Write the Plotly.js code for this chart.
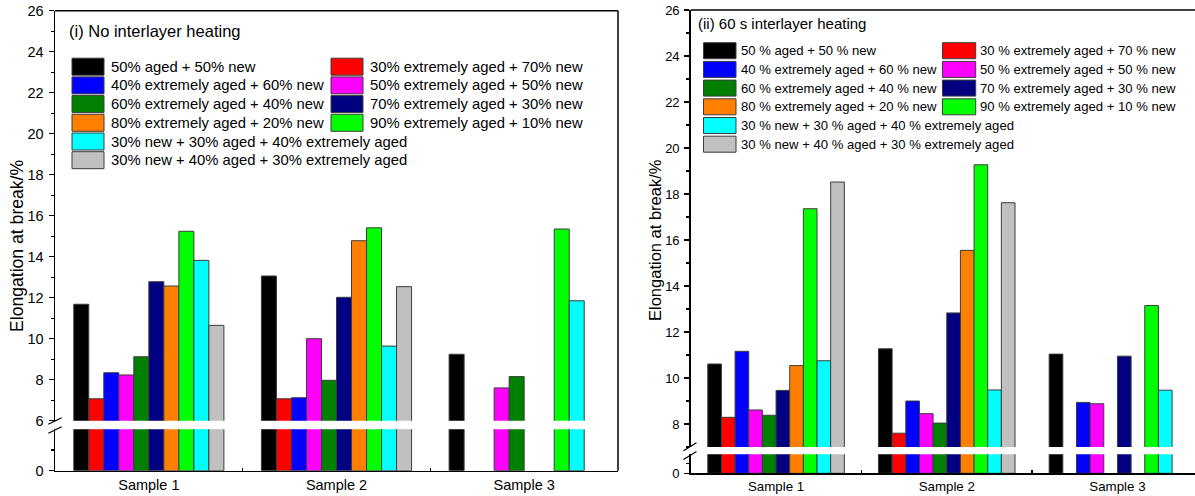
<!DOCTYPE html>
<html>
<head>
<meta charset="utf-8">
<script src="https://cdn.plot.ly/plotly-3.0.1.min.js"></script>
<style>
  html, body { margin: 0; padding: 0; background: #fff; }
  #chart { width: 1195px; height: 496px; }
</style>
</head>
<body>
<div id="chart"></div>
<script>
// Elongation at break of blended samples, with and without interlayer heating
const samples = ['Sample 1', 'Sample 2', 'Sample 3'];

const blendNamesNoHeat = [
  '50% aged + 50% new',
  '30% extremely aged + 70% new',
  '40% extremely aged + 60% new',
  '50% extremely aged + 50% new',
  '60% extremely aged + 40% new',
  '70% extremely aged + 30% new',
  '80% extremely aged + 20% new',
  '90% extremely aged + 10% new',
  '30% new + 30% aged + 40% extremely aged',
  '30% new + 40% aged + 30% extremely aged'
];
const blendNamesHeat = [
  '50 % aged + 50 % new',
  '30 % extremely aged + 70 % new',
  '40 % extremely aged + 60 % new',
  '50 % extremely aged + 50 % new',
  '60 % extremely aged + 40 % new',
  '70 % extremely aged + 30 % new',
  '80 % extremely aged + 20 % new',
  '90 % extremely aged + 10 % new',
  '30 % new + 30 % aged + 40 % extremely aged',
  '30 % new + 40 % aged + 30 % extremely aged'
];
const blendColors = ['#000000', '#FF0000', '#0000FF', '#FF00FF', '#008000',
                     '#000080', '#FF8000', '#00FF00', '#00FFFF', '#C0C0C0'];

// Elongation at break (%), one value per blend (same order as the names)
const noHeatSample1 = [11.68, 7.07, 8.34, 8.23, 9.12, 12.78, 12.57, 15.24, 13.82, 10.65];
const noHeatSample2 = [13.06, 7.07, 7.12, 10.00, 7.97, 12.02, 14.78, 15.41, 9.64, 12.54];
const noHeatSample3 = [9.24, null, null, 7.60, 8.15, null, null, 15.35, 11.85, null];

const heatSample1 = [10.61, 8.29, 11.16, 8.61, 8.38, 9.46, 10.54, 17.36, 10.75, 18.52];
const heatSample2 = [11.27, 7.60, 9.00, 8.45, 8.04, 12.83, 15.55, 19.27, 9.48, 17.62];
const heatSample3 = [11.04, null, 8.94, 8.88, null, 10.95, null, 13.15, 9.47, null];

const W = 1195, H = 496;
const px = p => p / W;          // pixel column -> paper x
const py = p => 1 - p / H;      // pixel row -> paper y
const FONT = 'Arial, "Liberation Sans", sans-serif';

const panels = [
  { xa: 'x',  yLow: 'y',  yHigh: 'y2', rows: [noHeatSample1, noHeatSample2, noHeatSample3] },
  { xa: 'x2', yLow: 'y3', yHigh: 'y4', rows: [heatSample1, heatSample2, heatSample3] }
];

// Each blend is drawn twice per panel: once on the short lower segment of the
// broken axis and once on the main upper segment.
const traces = [];
panels.forEach(p => {
  [p.yLow, p.yHigh].forEach(ya => {
    blendColors.forEach((c, i) => {
      traces.push({
        type: 'bar',
        x: samples,
        y: p.rows.map(r => r[i]),
        xaxis: p.xa,
        yaxis: ya,
        name: (p.xa === 'x' ? blendNamesNoHeat : blendNamesHeat)[i],
        marker: { color: c, line: { color: '#3c3c3c', width: 1 } },
        showlegend: false,
        hoverinfo: 'x+y+name'
      });
    });
  });
});

const baseX = {
  type: 'category', showline: true, linecolor: '#000', linewidth: 1.5,
  ticks: 'inside', tickson: 'boundaries', ticklen: 3, tickwidth: 1.2, tickcolor: '#000',
  showgrid: false, zeroline: false, fixedrange: true
};
const baseY = {
  showline: true, linecolor: '#000', linewidth: 1.5, ticks: 'outside', tickwidth: 1.2,
  tickcolor: '#000', showgrid: false, zeroline: false, fixedrange: true
};

const layout = {
  width: W, height: H,
  margin: { l: 0, r: 0, t: 0, b: 0 },
  paper_bgcolor: '#fff', plot_bgcolor: 'rgba(0,0,0,0)',
  font: { family: FONT, color: '#000' },
  barmode: 'group', bargap: 0.2, bargroupgap: 0,
  showlegend: false,

  // (i) panel
  xaxis: Object.assign({}, baseX, {
    domain: [px(55), px(618)], anchor: 'y', range: [-0.5, 2.5],
    tickfont: { family: FONT, size: 14.5 }
  }),
  yaxis: Object.assign({}, baseY, {
    domain: [py(470.7), py(429.3)], anchor: 'x', range: [0, 2],
    tickmode: 'array', tickvals: [0], ticktext: ['0'], ticklen: 5,
    minor: { tickmode: 'array', tickvals: [1], ticks: 'outside', ticklen: 3, tickcolor: '#000' },
    tickfont: { family: FONT, size: 14.5 }, ticklabelstandoff: 2
  }),
  yaxis2: Object.assign({}, baseY, {
    domain: [py(420.7), py(10.7)], anchor: 'x', range: [6, 26],
    tickmode: 'linear', tick0: 0, dtick: 2, ticklen: 5,
    minor: { tickmode: 'linear', tick0: 0, dtick: 1, ticks: 'outside', ticklen: 3, tickcolor: '#000' },
    tickfont: { family: FONT, size: 14.5 }, ticklabelstandoff: 2
  }),

  // (ii) panel
  xaxis2: Object.assign({}, baseX, {
    domain: [px(690.7), 1], anchor: 'y3', range: [-0.5, -0.5 + (1195 - 690.7) / 170.7],
    tickfont: { family: FONT, size: 13.3 }
  }),
  yaxis3: Object.assign({}, baseY, {
    domain: [py(473.3), py(454.3)], anchor: 'x2', range: [0, 1],
    tickmode: 'array', tickvals: [0], ticktext: ['0'], ticklen: 5,
    minor: { tickmode: 'array', tickvals: [0.5], ticks: 'outside', ticklen: 3, tickcolor: '#000' },
    tickfont: { family: FONT, size: 13 }, ticklabelstandoff: 2
  }),
  yaxis4: Object.assign({}, baseY, {
    domain: [py(447), py(10)], anchor: 'x2', range: [7, 26],
    tickmode: 'linear', tick0: 0, dtick: 2, ticklen: 5,
    minor: { tickmode: 'linear', tick0: 1, dtick: 2, ticks: 'outside', ticklen: 3, tickcolor: '#000' },
    tickfont: { family: FONT, size: 13 }, ticklabelstandoff: 2
  }),

  shapes: [],
  annotations: []
};

const line = (x0, y0, x1, y1, w) => ({
  type: 'line', xref: 'paper', yref: 'paper',
  x0: px(x0), y0: py(y0), x1: px(x1), y1: py(y1),
  line: { color: '#000', width: w || 1.5 }
});

// frames
layout.shapes.push(line(55, 10.7, 618, 10.7));
layout.shapes.push(line(618, 10.7, 618, 470.7));
layout.shapes.push(line(690.7, 10, 1195, 10));

// axis break marks
layout.shapes.push(line(48.3, 424.3, 61.7, 417.7, 1.2));
layout.shapes.push(line(48.3, 433.3, 61.7, 426.7, 1.2));
layout.shapes.push(line(683.5, 450.7, 696.5, 442.7, 1.2));
layout.shapes.push(line(683.5, 459.5, 696.5, 451.5, 1.2));

// titles
const note = (x, y, text, size, extra) => Object.assign({
  xref: 'paper', yref: 'paper', x: px(x), y: py(y), text: text, showarrow: false,
  xanchor: 'left', yanchor: 'middle', font: { family: FONT, size: size, color: '#000' }
}, extra || {});

layout.annotations.push(note(66.5, 31.5, '(i) No interlayer heating', 16.5));
layout.annotations.push(note(696, 23, '(ii) 60 s interlayer heating', 15));
layout.annotations.push(note(17, 246, 'Elongation at break/%', 17.6, { xanchor: 'center', textangle: -90 }));
layout.annotations.push(note(655, 240, 'Elongation at break/%', 16.5, { xanchor: 'center', textangle: -90 }));

// legends: first column holds items 0,2,4,6,8,9 and second column 1,3,5,7
const legendSlot = i => (i < 8 ? { row: Math.floor(i / 2), col: i % 2 } : { row: i - 4, col: 0 });
const legends = [
  { names: blendNamesNoHeat, top: 66.7, step: 18.7, sw: [[72, 104], [331, 363]], tx: [108.5, 367.5], h: 17, size: 14.8 },
  { names: blendNamesHeat, top: 50.7, step: 18.7, sw: [[703.5, 736], [942.5, 975.7]], tx: [739, 978], h: 16, size: 13.1 }
];
legends.forEach(L => {
  L.names.forEach((name, i) => {
    const s = legendSlot(i);
    const yc = L.top + s.row * L.step;
    layout.shapes.push({
      type: 'rect', xref: 'paper', yref: 'paper',
      x0: px(L.sw[s.col][0]), x1: px(L.sw[s.col][1]),
      y0: py(yc + L.h / 2), y1: py(yc - L.h / 2),
      fillcolor: blendColors[i], line: { color: '#3c3c3c', width: 1 }
    });
    layout.annotations.push(note(L.tx[s.col], yc, name, L.size));
  });
});

Plotly.newPlot('chart', traces, layout, { staticPlot: true, displayModeBar: false });
</script>
</body>
</html>
